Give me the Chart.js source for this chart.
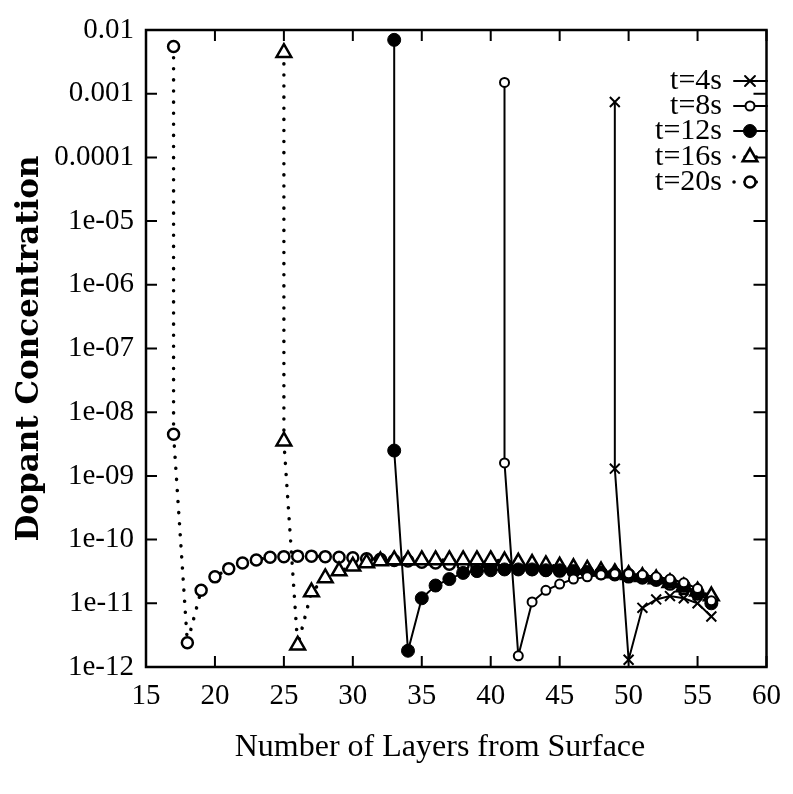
<!DOCTYPE html>
<html>
<head>
<meta charset="utf-8">
<script src="https://cdn.jsdelivr.net/npm/chart.js@4.4.1/dist/chart.umd.min.js"></script>
<style>
  html, body { margin: 0; padding: 0; background: #fff; }
  #wrap { width: 793px; height: 794px; }
</style>
</head>
<body>
<div id="wrap"><canvas id="myChart"></canvas></div>
<script>
// values
const seriesNames = ['t=4s', 't=8s', 't=12s', 't=16s', 't=20s'];

const layers4 = [49, 49, 50, 51, 52, 53, 54, 55, 56];
const conc4 = [7.4e-4, 1.3e-9, 1.3e-12, 8.5e-12, 1.15e-11, 1.3e-11, 1.2e-11, 1.0e-11, 6.2e-12];

const layers8 = [41, 41, 42, 43, 44, 45, 46, 47, 48, 49, 50, 51, 52, 53, 54, 55, 56];
const conc8 = [1.5e-3, 1.6e-9, 1.5e-12, 1.05e-11, 1.6e-11, 2.0e-11, 2.4e-11, 2.6e-11, 2.8e-11,
               2.9e-11, 2.9e-11, 2.8e-11, 2.6e-11, 2.4e-11, 2.1e-11, 1.7e-11, 1.1e-11];

const layers12 = [33, 33, 34, 35, 36, 37, 38, 39, 40, 41, 42, 43, 44, 45, 46, 47, 48, 49, 50,
                  51, 52, 53, 54, 55, 56];
const conc12 = [7e-3, 2.5e-9, 1.8e-12, 1.2e-11, 1.9e-11, 2.4e-11, 3.0e-11, 3.2e-11, 3.3e-11,
                3.4e-11, 3.4e-11, 3.4e-11, 3.3e-11, 3.3e-11, 3.2e-11, 3.1e-11, 3.0e-11, 2.9e-11,
                2.8e-11, 2.6e-11, 2.4e-11, 2.2e-11, 1.9e-11, 1.5e-11, 1.0e-11];

const layers16 = [25, 25, 26, 27, 28, 29, 30, 31, 32, 33, 34, 35, 36, 37, 38, 39, 40, 41, 42,
                  43, 44, 45, 46, 47, 48, 49, 50, 51, 52, 53, 54, 55, 56];
const conc16 = [4.4e-3, 3.5e-9, 2.2e-12, 1.5e-11, 2.5e-11, 3.2e-11, 3.8e-11, 4.3e-11, 4.6e-11,
                4.8e-11, 4.8e-11, 4.8e-11, 4.8e-11, 4.8e-11, 4.8e-11, 4.8e-11, 4.8e-11, 4.6e-11,
                4.4e-11, 4.2e-11, 4.0e-11, 3.8e-11, 3.6e-11, 3.4e-11, 3.2e-11, 3.0e-11, 2.8e-11,
                2.6e-11, 2.4e-11, 2.1e-11, 1.8e-11, 1.55e-11, 1.3e-11];

const layers20 = [17, 17, 18, 19, 20, 21, 22, 23, 24, 25, 26, 27, 28, 29, 30, 31, 32, 33, 34,
                  35, 36, 37, 38, 39, 40, 41, 42, 43, 44, 45, 46, 47, 48, 49, 50, 51, 52, 53,
                  54, 55, 56];
const conc20 = [5.5e-3, 4.5e-9, 2.4e-12, 1.6e-11, 2.6e-11, 3.5e-11, 4.3e-11, 4.8e-11, 5.3e-11,
                5.4e-11, 5.5e-11, 5.5e-11, 5.4e-11, 5.3e-11, 5.2e-11, 5.0e-11, 4.9e-11, 4.7e-11,
                4.6e-11, 4.4e-11, 4.3e-11, 4.1e-11, 4.0e-11, 3.8e-11, 3.7e-11, 3.6e-11, 3.5e-11,
                3.4e-11, 3.3e-11, 3.2e-11, 3.1e-11, 3.0e-11, 2.9e-11, 2.8e-11, 2.6e-11, 2.5e-11,
                2.3e-11, 2.0e-11, 1.7e-11, 1.4e-11, 1.1e-11];

const xTicks = [15, 20, 25, 30, 35, 40, 45, 50, 55, 60];
const yTickValues = [1e-2, 1e-3, 1e-4, 1e-5, 1e-6, 1e-7, 1e-8, 1e-9, 1e-10, 1e-11, 1e-12];
const yTickLabels = ['0.01', '0.001', '0.0001', '1e-05', '1e-06', '1e-07', '1e-08', '1e-09',
                     '1e-10', '1e-11', '1e-12'];

const toPoints = (xs, ys) => xs.map((x, i) => ({x: x, y: ys[i]}));

const solid = [];
const dotted = [0.1, 11];

const datasets = [
    {label: seriesNames[0], data: toPoints(layers4, conc4), pointStyle: 'crossRot',
     pointRadius: 7, pointBorderWidth: 2, borderWidth: 2, borderDash: solid,
     pointBackgroundColor: '#000'},
    {label: seriesNames[1], data: toPoints(layers8, conc8), pointStyle: 'circle',
     pointRadius: 4.5, pointBorderWidth: 2, borderWidth: 2, borderDash: solid,
     pointBackgroundColor: '#fff'},
    {label: seriesNames[2], data: toPoints(layers12, conc12), pointStyle: 'circle',
     pointRadius: 6.5, pointBorderWidth: 1, borderWidth: 2, borderDash: solid,
     pointBackgroundColor: '#000'},
    {label: seriesNames[3], data: toPoints(layers16, conc16), pointStyle: 'triangle',
     pointRadius: 8.5, pointBorderWidth: 2.5, borderWidth: 3.5, borderDash: dotted,
     pointBackgroundColor: '#fff'},
    {label: seriesNames[4], data: toPoints(layers20, conc20), pointStyle: 'circle',
     pointRadius: 5.5, pointBorderWidth: 2.5, borderWidth: 3.5, borderDash: dotted,
     pointBackgroundColor: '#fff'}
];
datasets.forEach(d => {
    d.showLine = true;
    d.borderColor = '#000';
    d.pointBorderColor = '#000';
    d.borderCapStyle = 'round';
    d.tension = 0;
});

// box, inward ticks on all four sides, axis titles, legend inside the plot
const framePlugin = {
    id: 'frame',
    afterDraw(chart) {
        const ctx = chart.ctx;
        const a = chart.chartArea;
        const xs = chart.scales.x, ys = chart.scales.y;
        ctx.save();
        ctx.strokeStyle = '#000';
        ctx.lineWidth = 2.5;
        ctx.strokeRect(a.left, a.top, a.right - a.left, a.bottom - a.top);
        ctx.lineWidth = 2;
        ctx.beginPath();
        xTicks.forEach(v => {
            const px = xs.getPixelForValue(v);
            ctx.moveTo(px, a.bottom); ctx.lineTo(px, a.bottom - 11);
            ctx.moveTo(px, a.top); ctx.lineTo(px, a.top + 11);
        });
        yTickValues.forEach(v => {
            const py = ys.getPixelForValue(v);
            ctx.moveTo(a.left, py); ctx.lineTo(a.left + 11, py);
            ctx.moveTo(a.right, py); ctx.lineTo(a.right - 13, py);
        });
        ctx.stroke();

        ctx.fillStyle = '#000';
        ctx.textAlign = 'center';
        ctx.textBaseline = 'middle';
        ctx.font = '32px "Liberation Serif"';
        ctx.fillText('Number of Layers from Surface', 440, 748);
        ctx.save();
        ctx.translate(30, (a.top + a.bottom) / 2);
        ctx.rotate(-Math.PI / 2);
        ctx.font = 'bold 31px "DejaVu Serif"';
        ctx.fillText('Dopant Concentration', 0, 0);
        ctx.restore();

        // legend
        const rowY = [81, 106, 131, 157, 182];
        chart.data.datasets.forEach((d, i) => {
            const y = rowY[i];
            ctx.font = '30px "Liberation Serif"';
            ctx.textAlign = 'right';
            ctx.fillText(d.label, 722, y);
            ctx.lineWidth = d.borderWidth;
            ctx.lineCap = 'round';
            ctx.setLineDash(d.borderDash);
            ctx.beginPath();
            ctx.moveTo(734, y); ctx.lineTo(767, y);
            ctx.stroke();
            ctx.setLineDash([]);
            ctx.fillStyle = d.pointBackgroundColor;
            ctx.lineWidth = d.pointBorderWidth;
            Chart.helpers.drawPoint(ctx, {pointStyle: d.pointStyle, radius: d.pointRadius,
                                          borderWidth: d.pointBorderWidth, rotation: 0}, 750, y);
            ctx.fillStyle = '#000';
        });
        ctx.restore();
    }
};

const ctx = document.getElementById('myChart').getContext('2d');
new Chart(ctx, {
    type: 'scatter',
    data: {datasets: datasets},
    options: {
        responsive: true,
        maintainAspectRatio: false,
        animation: false,
        layout: {padding: {left: 0, right: 16, top: 30, bottom: 0}},
        plugins: {legend: {display: false}, tooltip: {enabled: false}},
        scales: {
            x: {
                type: 'linear', min: 15, max: 60,
                afterBuildTicks: s => { s.ticks = xTicks.map(v => ({value: v})); },
                afterFit: s => { s.height = 127; },
                grid: {display: false, drawTicks: false},
                border: {display: false},
                ticks: {color: '#000', padding: 12, maxRotation: 0,
                        font: {family: 'Liberation Serif', size: 29}}
            },
            y: {
                type: 'logarithmic', min: 1e-12, max: 1e-2,
                afterBuildTicks: s => { s.ticks = yTickValues.map(v => ({value: v})); },
                afterFit: s => { s.width = 146; },
                grid: {display: false, drawTicks: false},
                border: {display: false},
                ticks: {color: '#000', padding: 12,
                        callback: (v, i) => yTickLabels[i],
                        font: {family: 'Liberation Serif', size: 29}}
            }
        }
    },
    plugins: [framePlugin]
});
</script>
</body>
</html>
